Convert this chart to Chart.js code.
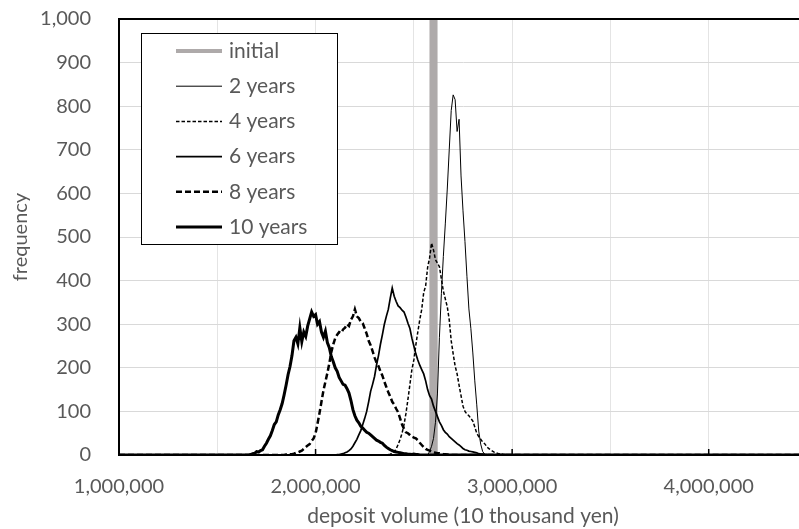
<!DOCTYPE html>
<html lang="en">
<head>
<meta charset="UTF-8">
<title>Deposit volume distribution</title>
<style>
  html, body { margin: 0; padding: 0; overflow: hidden; background: #fff; }
  #wrap { width: 830px; height: 529px; }
</style>
</head>
<body>
<div id="wrap"><canvas id="chart" width="830" height="529"></canvas></div>
<script src="https://cdn.jsdelivr.net/npm/chart.js@4"></script>
<script>
// histogram bins, 10 thousand yen each
const binStart = 1000000;
const binEnd = 4500000;
const binWidth = 10000;

const seriesNames = ['initial', '2 years', '4 years', '6 years', '8 years', '10 years'];
// value of the first bin listed in each series
const firstBin = [2600000, 2570000, 2360000, 2100000, 1840000, 1660000];

const countsInitial = [10000];
const counts2y = [0, 8, 20, 38, 75, 140, 270, 370, 455, 530, 610, 700, 790, 826, 815, 742, 770, 640, 560, 490,
  410, 335, 290, 234, 170, 115, 55, 25, 8, 2, 0];
const counts4y = [0, 1, 2, 4, 7, 14, 24, 36, 50, 70, 96, 128, 162, 196, 218, 252, 282, 310, 334, 372,
  388, 430, 452, 486, 470, 448, 440, 432, 404, 376, 358, 340, 310, 262, 232, 204, 186, 160, 136, 112,
  100, 94, 90, 84, 78, 64, 50, 42, 36, 30, 26, 20, 15, 12, 9, 6, 5, 3, 3, 2, 1, 1, 0];
const counts6y = [0, 1, 1, 2, 3, 5, 7, 10, 14, 20, 28, 36, 46, 56, 70, 84, 100, 122, 146, 162,
  180, 206, 228, 254, 276, 300, 318, 334, 360, 383, 364, 352, 342, 338, 332, 328, 316, 302, 290, 268,
  250, 232, 218, 206, 196, 186, 170, 150, 136, 128, 112, 100, 88, 76, 68, 58, 52, 48, 42, 38,
  34, 30, 26, 23, 19, 15, 12, 11, 9, 8, 7, 6, 5, 3, 2, 2, 1, 1, 0];
const counts8y = [0, 1, 1, 2, 2, 3, 5, 6, 8, 10, 14, 18, 22, 25, 32, 38, 50, 72, 96, 122,
  148, 168, 188, 210, 236, 254, 268, 276, 282, 280, 288, 292, 300, 296, 310, 318, 334, 318, 314, 306,
  302, 290, 278, 262, 252, 238, 224, 212, 204, 192, 182, 168, 156, 144, 134, 122, 116, 106, 98, 84,
  70, 60, 52, 50, 46, 42, 40, 38, 34, 28, 23, 18, 14, 12, 10, 8, 6, 5, 4, 4, 3, 2, 2, 1, 1, 0];
const counts10y = [0, 1, 3, 4, 8, 7, 10, 12, 20, 27, 36, 44, 56, 70, 76, 92, 104, 118, 138, 160,
  184, 203, 228, 262, 270, 255, 292, 260, 282, 272, 296, 312, 328, 318, 322, 300, 306, 282, 270, 284,
  258, 246, 226, 214, 200, 192, 178, 170, 162, 160, 152, 142, 125, 104, 90, 80, 74, 66, 62, 57,
  52, 50, 46, 42, 38, 34, 32, 29, 27, 22, 18, 15, 12, 10, 8, 7, 6, 5, 4, 3, 3, 2, 2, 1, 2, 1, 1, 0];

const allCounts = [countsInitial, counts2y, counts4y, counts6y, counts8y, counts10y];

const xLabelValues = [1000000, 2000000, 3000000, 4000000];
const xStep = 500000;
const yMin = 0, yMax = 1000, yStep = 100;

const xTitle = 'deposit volume (10 thousand yen)';
const yTitle = 'frequency';

// line looks, same order as seriesNames
const gray = '#aeaaaa';
const looks = [
  { color: gray, width: 4.5, dash: [] },
  { color: '#000', width: 1, dash: [] },
  { color: '#000', width: 1.5, dash: [3.5, 2] },
  { color: '#000', width: 1.7, dash: [] },
  { color: '#000', width: 2.5, dash: [6, 3] },
  { color: '#000', width: 3, dash: [] }
];

const textGray = '#595959';
Chart.defaults.font.family = 'Lato, "Noto Sans", sans-serif';

// spread each series over every bin of the axis, zero where nothing was counted
function toPoints(first, counts) {
  const pts = [];
  const n = (binEnd - binStart) / binWidth;
  const offset = Math.round((first - binStart) / binWidth);
  for (let i = 0; i <= n; i++) {
    const c = counts[i - offset];
    pts.push({ x: binStart + i * binWidth, y: c === undefined ? 0 : c });
  }
  return pts;
}

const datasets = seriesNames.map((name, i) => {
  const ds = {
    label: name,
    data: toPoints(firstBin[i], allCounts[i]),
    borderColor: looks[i].color,
    borderWidth: looks[i].width,
    borderDash: looks[i].dash,
    pointRadius: 0,
    tension: 0,
    fill: false,
    order: 0
  };
  if (i === 0) {
    // the single initial bin: hide the flat part, keep it under the other lines
    ds.order = 1;
    ds.clip = 0;
    ds.segment = {
      borderColor: c => (c.p0.parsed.y === 0 && c.p1.parsed.y === 0) ? 'rgba(0,0,0,0)' : gray
    };
  }
  return ds;
});

const extras = {
  id: 'extras',
  afterDatasetsDraw(chart) {
    const { ctx, chartArea: a, scales: { x } } = chart;
    ctx.save();
    // inside tick marks at the labelled values
    ctx.strokeStyle = '#000';
    ctx.lineWidth = 1.5;
    xLabelValues.forEach(v => {
      const px = x.getPixelForValue(v);
      ctx.beginPath();
      ctx.moveTo(px, a.bottom);
      ctx.lineTo(px, a.bottom - 6);
      ctx.stroke();
    });
    // top frame line
    ctx.lineWidth = 2;
    ctx.beginPath();
    ctx.moveTo(a.left - 1, a.top);
    ctx.lineTo(a.right, a.top);
    ctx.stroke();

    // legend box
    const bx = a.left + 22, by = a.top + 14, bw = 196, bh = 211;
    ctx.fillStyle = '#fff';
    ctx.fillRect(bx, by, bw, bh);
    ctx.lineWidth = 1;
    ctx.strokeStyle = '#000';
    ctx.strokeRect(bx + 0.5, by + 0.5, bw, bh);
    ctx.font = '21px Lato, "Noto Sans", sans-serif';
    ctx.textBaseline = 'middle';
    ctx.textAlign = 'left';
    seriesNames.forEach((name, i) => {
      const yy = by + 18 + i * 35.2;
      ctx.save();
      ctx.strokeStyle = looks[i].color;
      ctx.lineWidth = i === 0 ? 4 : looks[i].width;
      ctx.setLineDash(looks[i].dash);
      ctx.beginPath();
      ctx.moveTo(bx + 35, yy);
      ctx.lineTo(bx + 81, yy);
      ctx.stroke();
      ctx.restore();
      ctx.fillStyle = textGray;
      ctx.fillText(name, bx + 88, yy);
    });
    ctx.restore();
  }
};

new Chart(document.getElementById('chart'), {
  type: 'line',
  data: { datasets },
  options: {
    responsive: false,
    animation: false,
    layout: { padding: { top: 19, right: 23, bottom: 0, left: 0 } },
    plugins: { legend: { display: false }, tooltip: { enabled: false } },
    scales: {
      x: {
        type: 'linear',
        min: binStart,
        max: binEnd,
        afterFit: s => { s.height = 74; s.paddingLeft = 0; s.paddingRight = 0; },
        border: { color: '#000', width: 2 },
        grid: { color: '#e4e4e4', lineWidth: 1, drawTicks: false },
        ticks: {
          stepSize: xStep,
          autoSkip: false,
          maxRotation: 0,
          padding: 20,
          color: textGray,
          font: { size: 20 },
          callback: v => xLabelValues.includes(v) ? v.toLocaleString('en-US') : ''
        },
        title: { display: true, text: xTitle, color: textGray, font: { size: 21 }, padding: { top: 0, bottom: 0 } }
      },
      y: {
        min: yMin,
        max: yMax,
        afterFit: s => { s.width = 119; s.paddingTop = 0; s.paddingBottom = 0; },
        border: { color: '#000', width: 2 },
        grid: { color: '#d9d9d9', lineWidth: 1, drawTicks: false },
        ticks: {
          stepSize: yStep,
          padding: 28,
          color: textGray,
          font: { size: 20 },
          callback: v => v.toLocaleString('en-US')
        },
        title: { display: true, text: yTitle, color: textGray, font: { size: 20 }, padding: { top: 9, bottom: 0 } }
      }
    }
  },
  plugins: [extras]
});
</script>
</body>
</html>
